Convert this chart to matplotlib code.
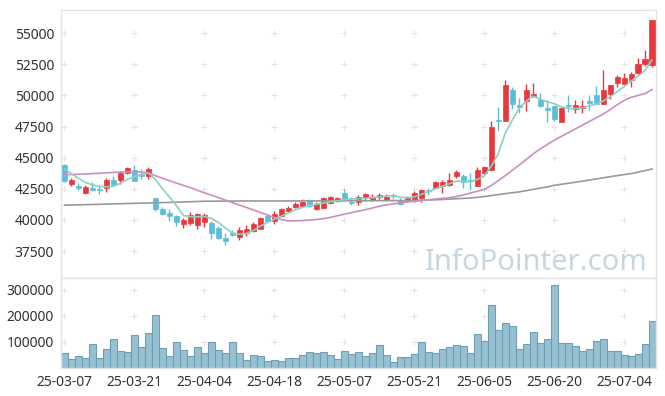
import matplotlib
matplotlib.use("Agg")
import matplotlib.pyplot as plt

# trading days 2025-03-07 .. 2025-07-10
dates = ["25-03-07", "25-03-10", "25-03-11", "25-03-12", "25-03-13", "25-03-14",
         "25-03-17", "25-03-18", "25-03-19", "25-03-20", "25-03-21", "25-03-24",
         "25-03-25", "25-03-26", "25-03-27", "25-03-28", "25-03-31", "25-04-01",
         "25-04-02", "25-04-03", "25-04-04", "25-04-07", "25-04-08", "25-04-09",
         "25-04-10", "25-04-11", "25-04-14", "25-04-15", "25-04-16", "25-04-17",
         "25-04-18", "25-04-21", "25-04-22", "25-04-23", "25-04-24", "25-04-25",
         "25-04-28", "25-04-29", "25-04-30", "25-05-02", "25-05-07", "25-05-08",
         "25-05-09", "25-05-12", "25-05-13", "25-05-14", "25-05-15", "25-05-16",
         "25-05-19", "25-05-20", "25-05-21", "25-05-22", "25-05-23", "25-05-26",
         "25-05-27", "25-05-28", "25-05-29", "25-05-30", "25-06-02", "25-06-04",
         "25-06-05", "25-06-09", "25-06-10", "25-06-11", "25-06-12", "25-06-13",
         "25-06-16", "25-06-17", "25-06-18", "25-06-19", "25-06-20", "25-06-23",
         "25-06-24", "25-06-25", "25-06-26", "25-06-27", "25-06-30", "25-07-01",
         "25-07-02", "25-07-03", "25-07-04", "25-07-07", "25-07-08", "25-07-09",
         "25-07-10"]

opens = [44435, 42880, 42745, 42200, 42530, 42500, 42600, 43225, 43200, 43770,
         44030, 43690, 43490, 41750, 40860, 40590, 40320, 39700, 39780, 39570,
         39860, 39780, 39350, 38520, 38930, 38630, 38930, 39110, 39300, 40320,
         39920, 40320, 40720, 41050, 41130, 41610, 40910, 40990, 41320, 41530,
         42150, 41400, 41400, 41800, 41590, 41850, 41590, 41990, 41610, 41480,
         41530, 41720, 42420, 42530, 42690, 42800, 43550, 43550, 43230, 42690,
         43730, 44010, 48040, 47930, 50400, 49250, 49570, 49920, 49600, 49010,
         49190, 47900, 49250, 48930, 48980, 49540, 50000, 49330, 50080, 50990,
         50940, 51260, 51800, 52500, 52470]
highs = [44500, 43330, 42930, 42800, 43010, 42770, 43330, 43490, 43900, 44280,
         44410, 44110, 44280, 41800, 41050, 40860, 40400, 40190, 40640, 40590,
         40590, 39900, 39500, 38920, 39180, 39450, 39610, 39860, 40200, 40510,
         40700, 40950, 41130, 41430, 41640, 41700, 41430, 41850, 41950, 41860,
         42520, 41860, 42040, 42180, 42070, 42130, 42070, 42180, 41720, 41900,
         42340, 42500, 42600, 43150, 43230, 43790, 44000, 43710, 43780, 44230,
         44350, 47980, 49080, 51210, 50650, 49780, 50940, 51020, 50160, 49600,
         49250, 49100, 50000, 49600, 49600, 50000, 50750, 52020, 50810, 51610,
         51830, 51880, 52990, 53690, 56050]
lows = [43050, 42690, 42390, 42120, 42340, 42120, 42280, 42700, 42900, 43690,
        43090, 43300, 43300, 40680, 40420, 39930, 39500, 39370, 39620, 39250,
        39460, 38440, 38500, 38000, 38680, 38360, 38720, 39030, 39250, 39850,
        39670, 40250, 40700, 40990, 41050, 41000, 40770, 40900, 41250, 41430,
        41550, 41210, 41210, 41510, 41510, 41590, 41500, 41700, 41210, 41400,
        41450, 41450, 41990, 42450, 42200, 42750, 43400, 42580, 42420, 42690,
        43700, 44010, 47150, 47930, 48920, 48600, 48760, 49900, 49100, 47860,
        47930, 47850, 48680, 48600, 48600, 48820, 49330, 49330, 49730, 50650,
        50900, 50690, 51700, 52400, 52300]
closes = [43090, 43225, 42530, 42660, 42390, 42390, 43225, 42800, 43790, 44170,
          43090, 43490, 44090, 40910, 40510, 40320, 39860, 40000, 40400, 40510,
          40400, 38970, 38570, 38300, 38770, 39170, 39300, 39650, 40130, 39920,
          40510, 40860, 40990, 41270, 41450, 41080, 41270, 41750, 41860, 41750,
          41590, 41320, 41880, 42070, 41880, 41990, 41880, 41910, 41270, 41780,
          42200, 42420, 42340, 43070, 43070, 43230, 43820, 43010, 43150, 44030,
          44220, 47440, 47930, 50810, 49330, 49110, 50460, 50080, 49140, 48850,
          48120, 49010, 49140, 49250, 49190, 49410, 49330, 50480, 50810, 51470,
          51390, 51690, 52560, 52900, 56050]
volumes = [57700, 34600, 46000, 38500, 91000, 38500, 73000, 111500, 65400, 61500,
           127000, 80700, 134600, 203800, 76900, 46000, 100000, 69200, 46000, 80700,
           57700, 100000, 69200, 57700, 100000, 57700, 30800, 50000, 44900, 26900,
           30800, 26900, 38500, 38500, 50000, 61500, 57700, 61500, 50000, 34600,
           65400, 53800, 61500, 46000, 57700, 88500, 50000, 23100, 42300, 42300,
           53800, 100000, 61500, 57700, 73000, 80700, 88500, 84600, 57700, 130800,
           103800, 242300, 146000, 173000, 161500, 73000, 92300, 138500, 96200, 111500,
           319000, 96200, 96200, 84600, 65400, 73000, 103800, 111500, 65400, 65400,
           50000, 46000, 53800, 92300, 180800]

ma5 = [44090, 43700, 43350, 43000, 42820, 42680, 42650, 42700, 42950, 43250,
       43500, 43650, 43770, 43250, 42500, 41850, 41150, 40350, 40260, 40250,
       40280, 40120, 39800, 39350, 38950, 38850, 38900, 39150, 39500, 39780,
       40050, 40300, 40550, 40800, 41000, 41150, 41250, 41350, 41450, 41550,
       41620, 41680, 41700, 41740, 41780, 41850, 41930, 41940, 41820, 41780,
       41850, 42050, 42250, 42500, 42700, 42900, 43120, 43100, 43050, 43250,
       43500, 44300, 45300, 46950, 48000, 48950, 49550, 49950, 49700, 49500,
       49350, 49100, 48950, 48950, 49000, 49150, 49300, 49550, 49880, 50300,
       50700, 51150, 51550, 52000, 52850]
ma20 = [43630, 43650, 43670, 43690, 43720, 43750, 43780, 43810, 43850, 43860,
        43870, 43850, 43770, 43550, 43350, 43150, 42960, 42780, 42590, 42380,
        42180, 41990, 41790, 41590, 41390, 41190, 41000, 40800, 40600, 40400,
        40190, 40020, 39920, 39930, 39950, 39980, 40030, 40100, 40200, 40330,
        40460, 40580, 40700, 40820, 40950, 41100, 41200, 41290, 41370, 41440,
        41500, 41560, 41620, 41680, 41730, 41780, 41880, 42000, 42150, 42300,
        42450, 42750, 43150, 43550, 43980, 44400, 44850, 45300, 45700, 46050,
        46400, 46700, 47000, 47300, 47600, 47900, 48200, 48500, 48850, 49250,
        49600, 49850, 50000, 50150, 50480]
ma60 = [41180, 41195, 41210, 41225, 41240, 41255, 41270, 41285, 41300, 41315,
        41330, 41345, 41360, 41375, 41390, 41405, 41420, 41440, 41460, 41480,
        41500, 41505, 41510, 41510, 41515, 41515, 41520, 41520, 41520, 41520,
        41520, 41520, 41520, 41525, 41525, 41525, 41525, 41530, 41530, 41530,
        41530, 41535, 41535, 41540, 41540, 41545, 41550, 41550, 41555, 41560,
        41570, 41580, 41595, 41615, 41640, 41670, 41700, 41730, 41760, 41810,
        41880, 41950, 42030, 42110, 42180, 42250, 42350, 42450, 42550, 42650,
        42780, 42860, 42940, 43020, 43110, 43200, 43290, 43380, 43470, 43560,
        43640, 43720, 43840, 43960, 44090]

price_ticks = [37500, 40000, 42500, 45000, 47500, 50000, 52500, 55000]
volume_ticks = [100000, 200000, 300000]
label_every = 10

UP = "#e8383d"
DOWN = "#5bbdd7"
GRID = "#e2e2e2"
FRAME = "#e3e3e3"
TXT = "#333333"

plt.rcParams["font.family"] = ["Noto Sans", "DejaVu Sans"]

fig = plt.figure(figsize=(6.65, 3.96), dpi=100)
W, H = 665.0, 396.0
left, right = 61 / W, 655.5 / W
ax = fig.add_axes([left, 1 - 278 / H, right - left, (278 - 10) / H])
axv = fig.add_axes([left, 1 - 368 / H, right - left, (368 - 278) / H])

n = len(closes)
xs = list(range(n))
cols = [UP if c >= o else DOWN for o, c in zip(opens, closes)]
bottoms = [min(o, c) for o, c in zip(opens, closes)]
heights = [max(abs(c - o), 50) for o, c in zip(opens, closes)]

tick_idx = xs[::label_every]

# grid crosses
for xt in tick_idx:
    ax.plot([xt] * len(price_ticks), price_ticks, ls="none", marker="+",
            ms=5, mew=0.7, color=GRID, zorder=1)
    axv.plot([xt] * len(volume_ticks), volume_ticks, ls="none", marker="+",
             ms=5, mew=0.7, color=GRID, zorder=1)

# candles
ax.vlines(xs, lows, highs, colors=cols, lw=1.0, zorder=2)
ax.bar(xs, heights, bottom=bottoms, width=0.72, color=cols, edgecolor=cols,
       lw=0.5, zorder=3)

# moving averages
ax.plot(xs, ma60, color="#999999", lw=1.2, zorder=4)
ax.plot(xs, ma20, color="#c98fc3", lw=1.2, zorder=4)
ax.plot(xs, ma5, color="#8fcfc2", lw=1.2, zorder=4)

ax.text(0.987, 0.03, "InfoPointer.com", transform=ax.transAxes, ha="right",
        va="baseline", fontsize=21, color="#c6d7e1", zorder=0)

ax.set_xlim(-0.5, n - 0.5)
ax.set_ylim(35330, 56870)
ax.set_yticks(price_ticks)
ax.set_yticklabels([str(v) for v in price_ticks])
ax.set_xticks([])

axv.bar(xs, volumes, width=1.0, color="#97c0d1", edgecolor="#6f9fb5",
        lw=0.8, zorder=2)
axv.set_xlim(-0.5, n - 0.5)
axv.set_ylim(0, 346000)
axv.set_yticks(volume_ticks)
axv.set_yticklabels([str(v) for v in volume_ticks])
axv.set_xticks(tick_idx)
axv.set_xticklabels([dates[i] for i in tick_idx])

for a in (ax, axv):
    a.tick_params(length=0, labelsize=10, colors=TXT, pad=5)
    for s in a.spines.values():
        s.set_color(FRAME)
        s.set_linewidth(1.0)

fig.savefig("out.png", dpi=100)
